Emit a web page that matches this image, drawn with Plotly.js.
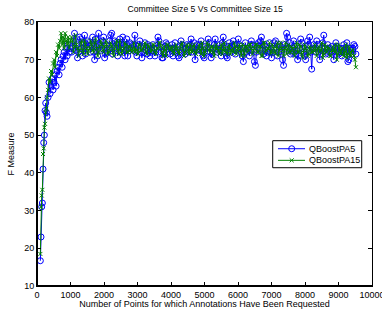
<!DOCTYPE html>
<html><head><meta charset="utf-8">
<script src="https://cdn.plot.ly/plotly-3.0.1.min.js"></script>
<style>html,body{margin:0;padding:0;background:#fff}#c{width:382px;height:309px}</style>
</head><body><div id="c"></div>
<script>
const xPoints = [100,120,140,160,180,200,220,240,260,280,300,330,360,390,420,450,480,510,540,570,600,630,660,690,720,750,780,810,840,870,900,930,960,1000,
1030,1060,1090,1120,1150,1180,1210,1240,1270,1300,1330,1360,1390,1420,1450,1480,1510,1540,1570,1600,
1630,1660,1690,1720,1750,1780,1810,1840,1870,1900,1930,1960,1990,2020,2050,2080,2110,2140,2170,2200,
2230,2260,2290,2320,2350,2380,2410,2440,2470,2500,2530,2560,2590,2620,2650,2680,2710,2740,2770,2800,
2830,2860,2890,2920,2950,2980,3010,3040,3070,3100,3130,3160,3190,3220,3250,3280,3310,3340,3370,3400,
3430,3460,3490,3520,3550,3580,3610,3640,3670,3700,3730,3760,3790,3820,3850,3880,3910,3940,3970,4000,
4030,4060,4090,4120,4150,4180,4210,4240,4270,4300,4330,4360,4390,4420,4450,4480,4510,4540,4570,4600,
4630,4660,4690,4720,4750,4780,4810,4840,4870,4900,4930,4960,4990,5020,5050,5080,5110,5140,5170,5200,
5230,5260,5290,5320,5350,5380,5410,5440,5470,5500,5530,5560,5590,5620,5650,5680,5710,5740,5770,5800,
5830,5860,5890,5920,5950,5980,6010,6040,6070,6100,6130,6160,6190,6220,6250,6280,6310,6340,6370,6400,
6430,6460,6490,6520,6550,6580,6610,6640,6670,6700,6730,6760,6790,6820,6850,6880,6910,6940,6970,7000,
7030,7060,7090,7120,7150,7180,7210,7240,7270,7300,7330,7360,7390,7420,7450,7480,7510,7540,7570,7600,
7630,7660,7690,7720,7750,7780,7810,7840,7870,7900,7930,7960,7990,8020,8050,8080,8110,8140,8170,8200,
8230,8260,8290,8320,8350,8380,8410,8440,8470,8500,8530,8560,8590,8620,8650,8680,8710,8740,8770,8800,
8830,8860,8890,8920,8950,8980,9010,9040,9070,9100,9130,9160,9190,9220,9250,9280,9310,9340,9370,9400,
9430,9460,9490,9520];
const qboostPA5 = [16.7,23,31,32,41,48,50,56.5,58.5,56,55,60,64,61,63,65,62,64,66,63,67,68,66,69,70,68,71,72,70,73,71,74,72,73,
72,73.5,75,77,72.5,74,70.5,72,76,75.5,73,71,74.5,76.5,71.5,73,75,74.5,73.5,72,
74,76,72,70,75.5,73.5,71,77,74,72.5,73,75,76,70.5,71.5,74,72,73,75,76.5,
77,71.5,73,75,74.5,73,71,74.5,75.5,72,73,76,74,71,72.5,75.5,71,73,74.5,74,
73,72.5,74,76.5,72,71,73.5,74,75,73,70.5,72,73.5,74.5,72.5,71.5,74,73.5,71,72,
72.5,74,73,71,72,73,76,75,73.5,72,70.5,70.5,72,73.5,74.5,74,73,72,71.5,73,
74,71,73,74.5,72,72.5,71,70.5,73.5,75,74,73,72,71.5,73,74,73.5,72,74,75.5,
72,73,74.5,70,72.5,74,73,72.5,74,75,72,71,70.5,73.5,73,72,75.5,74.5,72,70.5,
71.5,73,74,75.5,73,72,72.5,74,73,71,74.5,76,72,73,71,70.5,73.5,74.5,73,72,
73.5,75,74,71.5,72.5,73,75.5,74,73,72,71,69.5,73,74.5,72,73,72.5,71,74,75,
74,72.5,69.5,68.5,72,74,74.5,73,75,76,72.5,71.5,74,73.5,71,72,73,74.5,72,70.5,
72,73,74.5,75,73,71,72,74,73.5,72.5,70,68.5,74,73,77,76,73,74.5,71.5,72,
73,75,73.5,71.5,72.5,70,71,73,75.5,74.5,73,72,71,70,72.5,75,74,76,72,67.5,
73,74,73,72,75,74,72,70,72.5,73,74.5,76.5,73,71.5,72,74,73,72,72.5,73.5,
72,70,73,74.5,73.5,72,71.5,73,72,71,73,74,72,72.5,74.5,69.5,70,73,72.5,71.5,
73,74,73.5,71.5];
const qboostPA15 = [18.5,31,34,35.5,45,46.5,52,53,56,57,60,62,65,64,67,66,69,70,68,72,71,74,73,75,77,74,76,73,77,75,74,76,73,75,
76,75,72,73.5,76.5,74,73,71,72.5,74.5,75,72.5,71.5,75,74,73,71.5,72.5,73,75,
74,72.5,72,74.5,75.5,73,71,72,73.5,75,74,72.5,72,73.5,75,74,71.5,72,73,74.5,
73.5,72,71,73,74,75,72.5,71.5,75,73,71.5,72.5,73,74.5,74,72,72,73.5,73.5,72.5,
72,73,74.5,72,73,72.5,71.5,74,74,72.5,72.5,73,73.5,74.5,72,71.5,74,73.5,73,72,
72.5,74,74,72,71.5,73,73,74.5,74.5,73.5,72,71,73.5,72.5,71,74,74,73,72.5,73,
73.5,72,71.5,73,74,73,72,71.5,73,74,74.5,72.5,71,72,73.5,74,72.5,71.5,74,72.5,
72,73.5,74,72,71.5,72.5,73,74,72.5,71.5,74.5,73,71,72,73,74.5,74,72.5,72,73.5,
73.5,72,71,73,74,73,72.5,71.5,73,74,71.5,72.5,74.5,73,72,71.5,73,74,71.5,72.5,
73,72,74.5,73.5,71.5,72.5,73,74,72,71,74,72.5,71,73.5,73.5,72,72.5,74,74,73,
71.5,72.5,73,74,74,72,72,73.5,73.5,71,71,74.5,74.5,72,72.5,73,73,74.5,71.5,72,
74,73,72,71.5,73.5,74.5,71,72.5,74.5,73,72.5,71,73,74.5,71.5,73,74,72,72,73.5,
73,72,71,73.5,74.5,72,72,74,73.5,71.5,70.5,72.5,74,73,72.5,71,71.5,73.5,73,72,
72,73,74,72.5,71,73,73.5,72,72.5,74.5,70.5,71.5,74,72.5,72,73.5,73,71,71,72.5,
73.5,72.5,72,74,70,71.5,74,72.5,71.5,73,73,71,72,74,70.5,71.5,73.5,72,71,72.5,
72.5,71,70,68];
const xTicks = [0,1000,2000,3000,4000,5000,6000,7000,8000,9000,10000];
const yTicks = [10,20,30,40,50,60,70,80];
const seriesNames = ['QBoostPA5','QBoostPA15'];
const seriesColors = ['rgb(0,0,255)','rgb(0,128,0)'];

const font = {family:'Liberation Sans, Arial, sans-serif', size:9, color:'#000'};
const traces = [
 {x:xPoints, y:qboostPA5, name:seriesNames[0], mode:'lines+markers', type:'scatter',
  line:{color:seriesColors[0], width:1},
  marker:{symbol:'circle-open', size:6, color:seriesColors[0], line:{width:1}}},
 {x:xPoints, y:qboostPA15, name:seriesNames[1], mode:'lines+markers', type:'scatter',
  line:{color:seriesColors[1], width:1},
  marker:{symbol:'x-thin-open', size:4, color:seriesColors[1], line:{width:1, color:seriesColors[1]}}}
];
const axisCommon = {showgrid:false, zeroline:false, showline:true, mirror:'ticks', linecolor:'#000', linewidth:1,
  ticks:'inside', ticklen:4, tickcolor:'#000', tickfont:font, ticklabeloverflow:'allow'};

// hand-drawn legend box (MATLAB style, compact rows)
const L = {x0:0.7036, x1:0.9693, y0:0.448, y1:0.5504, lx0:0.7194, lx1:0.80, mx:0.7603, tx:0.8069, rows:[0.520,0.476]};
const shapes = [
 {type:'line', xref:'paper', yref:'paper', x0:0, x1:0, y0:0, y1:1, line:{color:'#000', width:2}, layer:'above'},
 {type:'line', xref:'paper', yref:'paper', x0:0, x1:1, y0:0, y1:0, line:{color:'#000', width:2}, layer:'above'},
 {type:'rect', xref:'paper', yref:'paper', x0:L.x0, x1:L.x1, y0:L.y0, y1:L.y1, line:{color:'#000', width:1}, fillcolor:'#fff', layer:'above'},
 {type:'line', xref:'paper', yref:'paper', x0:L.lx0, x1:L.lx1, y0:L.rows[0], y1:L.rows[0], line:{color:seriesColors[0], width:1}},
 {type:'circle', xref:'paper', yref:'paper', x0:L.mx-0.009, x1:L.mx+0.009, y0:L.rows[0]-0.0114, y1:L.rows[0]+0.0114, line:{color:seriesColors[0], width:1}},
 {type:'line', xref:'paper', yref:'paper', x0:L.lx0, x1:L.lx1, y0:L.rows[1], y1:L.rows[1], line:{color:seriesColors[1], width:1}},
 {type:'line', xref:'paper', yref:'paper', x0:L.mx-0.006, x1:L.mx+0.006, y0:L.rows[1]-0.0076, y1:L.rows[1]+0.0076, line:{color:seriesColors[1], width:1}},
 {type:'line', xref:'paper', yref:'paper', x0:L.mx-0.006, x1:L.mx+0.006, y0:L.rows[1]+0.0076, y1:L.rows[1]-0.0076, line:{color:seriesColors[1], width:1}}
];
const annotations = seriesNames.map((n,i)=>({text:n, xref:'paper', yref:'paper', x:L.tx, y:L.rows[i], xanchor:'left', yanchor:'middle', showarrow:false, font:font}));

const layout = {
 width:382, height:309,
 margin:{l:37, r:10, t:22, b:23},
 paper_bgcolor:'#fff', plot_bgcolor:'#fff',
 font:font,
 title:{text:'Committee Size 5 Vs Committee Size 15', font:{family:font.family, size:8.6, color:'#000'}, x:0.537, xanchor:'center', y:0.972, yanchor:'middle'},
 xaxis:Object.assign({}, axisCommon, {range:[0,10000], tickvals:xTicks, ticktext:xTicks.map(String),
   title:{text:'Number of Points for which Annotations Have Been Requested', font:font, standoff:2}}),
 yaxis:Object.assign({}, axisCommon, {range:[10,80], tickvals:yTicks, ticktext:yTicks.map(String),
   title:{text:'F Measure', font:font, standoff:8}}),
 showlegend:false,
 shapes:shapes,
 annotations:annotations
};
Plotly.newPlot('c', traces, layout, {staticPlot:true, displayModeBar:false});
</script></body></html>
